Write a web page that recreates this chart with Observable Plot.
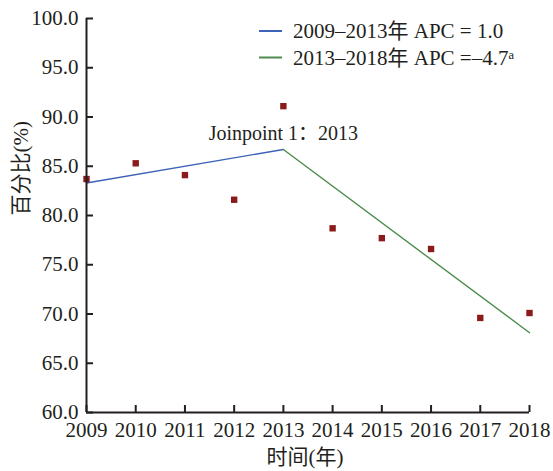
<!DOCTYPE html>
<html>
<head>
<meta charset="utf-8">
<script src="https://cdn.jsdelivr.net/npm/d3@7"></script>
<script src="https://cdn.jsdelivr.net/npm/@observablehq/plot@0.6"></script>
<style>
  html, body { margin: 0; padding: 0; background: #fff; }
</style>
</head>
<body>
<div id="chart"></div>
<script>
const years = [2009, 2010, 2011, 2012, 2013, 2014, 2015, 2016, 2017, 2018];
const values = [83.7, 85.3, 84.1, 81.6, 91.1, 78.7, 77.7, 76.6, 69.6, 70.1];
const seg1Years = [2009, 2013];
const seg1Values = [83.3, 86.7];
const seg2Years = [2013, 2018];
const seg2Values = [86.7, 68.1];
const yTicks = [60, 65, 70, 75, 80, 85, 90, 95, 100];
const legendLabels = ["2009\u20132013年 APC = 1.0", "2013\u20132018年 APC =\u20134.7\u1d43"];
const legendColors = ["#3c63b6", "#4c8c4c"];
const annotationYear = [2013];
const annotationValue = [88.3];
const annotationText = ["Joinpoint 1：2013"];
const xTitle = "时间(年)";
const yTitle = "百分比(%)";

const ink = "#231f20";
const font = "'Liberation Serif', 'Noto Sans CJK SC', serif";

const points = years.map((x, i) => ({x, y: values[i]}));
const seg1 = seg1Years.map((x, i) => ({x, y: seg1Values[i]}));
const seg2 = seg2Years.map((x, i) => ({x, y: seg2Values[i]}));
const ann = annotationYear.map((x, i) => ({x, y: annotationValue[i], t: annotationText[i]}));

const xMin = years[0];
const yMin = yTicks[0];

const chart = Plot.plot({
  width: 553,
  height: 471,
  marginLeft: 86,
  marginRight: 24,
  marginTop: 18,
  marginBottom: 59,
  style: {fontFamily: font, fontSize: "21px", color: ink},
  x: {domain: [2009, 2018]},
  y: {domain: [60, 100]},
  marks: [
    Plot.line(seg1, {x: "x", y: "y", stroke: legendColors[0], strokeWidth: 1.4}),
    Plot.line(seg2, {x: "x", y: "y", stroke: legendColors[1], strokeWidth: 1.4}),
    Plot.dot(points, {x: "x", y: "y", symbol: "square", r: 3.6, fill: "#8b1a1a", stroke: "none"}),
    Plot.text(ann, {x: "x", y: "y", text: "t", fill: ink, fontSize: 20}),
    Plot.ruleY(yTicks, {x1: xMin, x2: xMin, insetRight: -7, stroke: ink, strokeWidth: 2}),
    Plot.ruleX(years, {y1: yMin, y2: yMin, insetTop: -7, stroke: ink, strokeWidth: 2}),
    Plot.axisY({ticks: yTicks, tickSize: 0, tickPadding: 8, tickFormat: d => d.toFixed(1), fill: ink, label: null}),
    Plot.axisX({ticks: years, tickSize: 0, tickPadding: 10, tickFormat: d => String(d), fill: ink, label: null}),
    Plot.ruleX([xMin], {stroke: ink, strokeWidth: 2}),
    Plot.ruleY([yMin], {stroke: ink, strokeWidth: 2}),
    Plot.text([xTitle], {frameAnchor: "bottom", dx: -3, dy: 51, fill: ink, fontSize: 21}),
    Plot.text([yTitle], {frameAnchor: "left", dx: -65, dy: 0, rotate: -90, fill: ink, fontSize: 21})
  ]
});

const svg = d3.select(chart);

// legend
const lg = svg.append("g").attr("font-family", font).attr("font-size", 21).attr("fill", ink).attr("text-anchor", "start");
legendLabels.forEach((lab, i) => {
  const yy = 31 + i * 26.5;
  lg.append("line").attr("x1", 259).attr("x2", 282).attr("y1", yy).attr("y2", yy)
    .attr("stroke", legendColors[i]).attr("stroke-width", 2);
  lg.append("text").attr("x", 293).attr("y", yy).attr("dy", "0.35em").attr("text-anchor", "start").text(lab);
});

document.getElementById("chart").appendChild(chart);
</script>
</body>
</html>
